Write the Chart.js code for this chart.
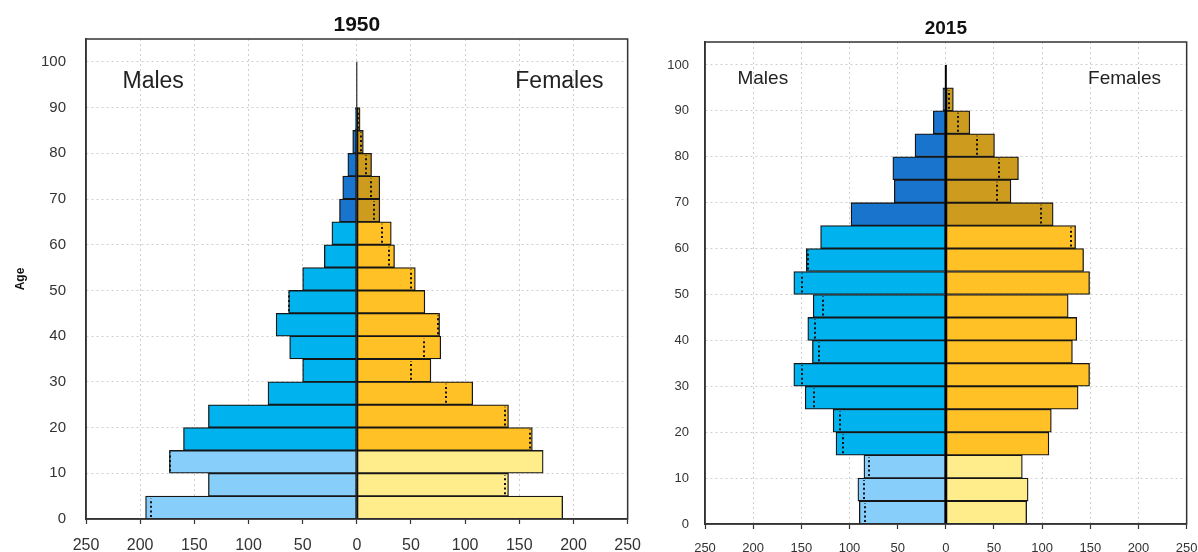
<!DOCTYPE html>
<html>
<head>
<meta charset="utf-8">
<script src="https://cdn.jsdelivr.net/npm/chart.js@4.4.1/dist/chart.umd.min.js"></script>
<style>
  body { margin: 0; background: #fff; width: 1198px; height: 552px; overflow: hidden; position: relative; }
  .box { position: absolute; top: 0; height: 552px; }
</style>
</head>
<body>
<div class="box" style="left:0;width:653px"><canvas id="chart1950"></canvas></div>
<div class="box" style="left:640px;width:569px"><canvas id="chart2015"></canvas></div>
<script>
// lower bound of each 5-year age group
const ageStarts = [0, 5, 10, 15, 20, 25, 30, 35, 40, 45, 50, 55, 60, 65, 70, 75, 80, 85, 90];

const males1950   = [195, 137, 173, 160, 137, 82, 50, 62, 74.5, 63, 50, 30, 23, 16, 13, 8.3, 3.8, 1.5];
const females1950 = [190, 140, 172, 162, 140, 107, 68.4, 77.5, 76.4, 62.8, 54, 34.8, 31.8, 21.2, 21.2, 13.6, 6, 3];

const males2015   = [89.8, 91.3, 85, 114, 117, 146, 157.8, 138.5, 143.3, 137.7, 157.8, 144.8, 130, 98.4, 53.5, 55, 32, 13, 3];
const females2015 = [83.9, 85.4, 79.4, 107, 109.5, 137.3, 149.2, 131.4, 135.9, 127, 149.2, 143, 134.7, 111.4, 67.6, 75.4, 50.5, 24.9, 7.8];

// young (<15), working age, 65+
const maleColors   = ['#87CEFA', '#00B2EE', '#1874CD'];
const femaleColors = ['#FFEC8B', '#FFC125', '#CD9B1D'];

const FONT = 'Arial, "Liberation Sans", sans-serif';

function colorFor(age, set) {
  return age < 15 ? set[0] : (age < 65 ? set[1] : set[2]);
}

// frame, centre line, dotted "other sex" markers and the Males/Females labels
const pyramidDecor = {
  id: 'pyramidDecor',
  afterDatasetsDraw(chart, args, o) {
    const { ctx, chartArea: a, scales: { x, y } } = chart;
    ctx.save();

    ctx.strokeStyle = '#111';
    ctx.lineWidth = 2;
    ctx.setLineDash([2, 2.6]);
    o.males.forEach((m, i) => {
      const f = o.females[i];
      if (m === f) return;
      const v = m > f ? -f : m;
      const px = Math.round(x.getPixelForValue(v));
      ctx.beginPath();
      ctx.moveTo(px, y.getPixelForValue(ageStarts[i]) - 2);
      ctx.lineTo(px, y.getPixelForValue(ageStarts[i] + 5) + 2);
      ctx.stroke();
    });

    ctx.setLineDash([]);
    ctx.strokeStyle = '#000';
    ctx.lineWidth = o.zeroWidth;
    const x0 = x.getPixelForValue(0);
    ctx.beginPath();
    ctx.moveTo(x0, y.getPixelForValue(0));
    ctx.lineTo(x0, y.getPixelForValue(100));
    ctx.stroke();

    ctx.strokeStyle = '#333';
    ctx.lineWidth = 1.5;
    ctx.strokeRect(a.left, a.top, a.right - a.left, a.bottom - a.top);

    ctx.fillStyle = '#222';
    ctx.font = o.labelSize + 'px ' + FONT;
    ctx.textAlign = 'center';
    ctx.textBaseline = 'middle';
    ctx.fillText('Males', x.getPixelForValue(o.malesAt[0]), y.getPixelForValue(o.malesAt[1]));
    ctx.fillText('Females', x.getPixelForValue(o.femalesAt[0]), y.getPixelForValue(o.femalesAt[1]));
    ctx.restore();
  }
};

function pyramid(id, year, males, females, s) {
  const ages = ageStarts.slice(0, males.length);
  return new Chart(document.getElementById(id), {
    type: 'bar',
    data: {
      datasets: [
        {
          label: 'Males',
          data: ages.map((a, i) => ({ x: -males[i], y: a + 2.5 })),
          backgroundColor: ages.map(a => colorFor(a, maleColors))
        },
        {
          label: 'Females',
          data: ages.map((a, i) => ({ x: females[i], y: a + 2.5 })),
          backgroundColor: ages.map(a => colorFor(a, femaleColors))
        }
      ]
    },
    options: {
      indexAxis: 'y',
      responsive: true,
      maintainAspectRatio: false,
      animation: false,
      datasets: {
        bar: {
          grouped: false,
          barPercentage: 1,
          categoryPercentage: 1,
          borderWidth: 1.3,
          borderColor: '#161616',
          borderSkipped: false
        }
      },
      layout: { padding: 0 },
      plugins: {
        legend: { display: false },
        tooltip: { enabled: false },
        title: {
          display: true,
          text: year,
          fullSize: false,
          color: '#111',
          font: { family: FONT, size: s.titleSize, weight: 'bold' },
          padding: { top: s.titleTop, bottom: s.titleBottom }
        },
        pyramidDecor: {
          males: males,
          females: females,
          zeroWidth: s.zeroWidth,
          labelSize: s.labelSize,
          malesAt: s.malesAt,
          femalesAt: s.femalesAt
        }
      },
      scales: {
        x: {
          type: 'linear',
          min: -250,
          max: 250,
          ticks: {
            stepSize: 50,
            padding: s.xPad,
            color: '#333',
            font: { family: FONT, size: s.xTickSize },
            callback: v => Math.abs(v)
          },
          grid: { color: '#cfcfcf', lineWidth: 1, drawTicks: true, tickLength: 5, tickColor: '#333', tickWidth: 1.2 },
          border: { display: true, color: '#333', width: 1.5, dash: [2, 3] },
          afterFit: sc => { sc.height = s.xAxisH; }
        },
        y: {
          type: 'linear',
          min: 0,
          max: 105,
          offset: false,
          ticks: {
            stepSize: 10,
            includeBounds: false,
            padding: s.yPad,
            color: '#333',
            font: { family: FONT, size: s.yTickSize }
          },
          grid: { color: '#cfcfcf', lineWidth: 1, drawTicks: false, offset: false },
          border: { display: true, color: '#333', width: 1.5, dash: [2, 3] },
          title: {
            display: s.ageTitle,
            text: 'Age',
            color: '#111',
            font: { family: FONT, size: 12, weight: 'bold' },
            padding: { top: 13, bottom: 0 }
          },
          afterFit: sc => { sc.width = s.yAxisW; }
        }
      }
    },
    plugins: [pyramidDecor]
  });
}

pyramid('chart1950', '1950', males1950, females1950, {
  titleSize: 21, titleTop: 12.4, titleBottom: 1.4,
  xTickSize: 16, yTickSize: 15, xPad: 12, yPad: 20, xAxisH: 33, yAxisW: 86,
  zeroWidth: 1, labelSize: 23, malesAt: [-188, 95.6], femalesAt: [187, 95.6], ageTitle: true
});

pyramid('chart2015', '2015', males2015, females2015, {
  titleSize: 19, titleTop: 17.6, titleBottom: 1.6,
  xTickSize: 13, yTickSize: 13, xPad: 11.5, yPad: 16, xAxisH: 28, yAxisW: 65,
  zeroWidth: 2, labelSize: 19, malesAt: [-190, 97], femalesAt: [185.5, 97], ageTitle: false
});
</script>
</body>
</html>
